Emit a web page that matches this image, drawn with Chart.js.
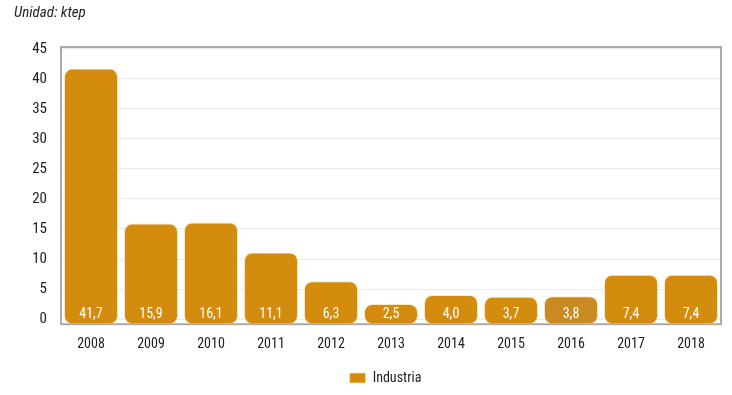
<!DOCTYPE html>
<html>
<head>
<meta charset="utf-8">
<script src="https://cdn.jsdelivr.net/npm/chart.js@4"></script>
<style>
  html, body { margin: 0; padding: 0; background: #fff; }
  #wrap { width: 732px; height: 395px; position: relative; }
</style>
</head>
<body>
<div id="wrap"><canvas id="grafico"></canvas></div>
<script>
const anos = ['2008', '2009', '2010', '2011', '2012', '2013', '2014', '2015', '2016', '2017', '2018'];
const industria = [41.7, 15.9, 16.1, 11.1, 6.3, 2.5, 4.0, 3.7, 3.8, 7.4, 7.4];
const yTicks = [0, 5, 10, 15, 20, 25, 30, 35, 40, 45];

const fonte = "'Roboto Condensed', 'Liberation Sans Narrow', 'DejaVu Sans Condensed', sans-serif";
const laranja = '#d48c0e';
const cores = anos.map(a => a === '2016' ? '#c98a22' : laranja);

// Moldura cinza ao redor da área do gráfico + título
const moldura = {
  id: 'moldura',
  afterLayout(chart) {
    // legenda centrada na área do gráfico, não no canvas
    const a = chart.chartArea;
    const desloc = (a.left + a.right) / 2 - chart.width / 2;
    chart.legend.left += desloc;
    chart.legend.right += desloc;
  },
  afterDraw(chart) {
    const { ctx, chartArea: a } = chart;
    ctx.save();
    ctx.strokeStyle = '#ababab';
    ctx.lineWidth = 2;
    ctx.strokeRect(a.left, a.top, a.right - a.left, a.bottom - a.top);
    ctx.fillStyle = '#222';
    ctx.font = "italic 15px " + fonte;
    ctx.textBaseline = 'middle';
    ctx.fillText('Unidad: ktep', 14, 13);
    ctx.restore();
  }
};

// Rótulos brancos na base das barras
const rotulos = {
  id: 'rotulos',
  afterDatasetsDraw(chart) {
    const { ctx } = chart;
    const meta = chart.getDatasetMeta(0);
    ctx.save();
    ctx.fillStyle = '#fff';
    ctx.font = "14px " + fonte;
    ctx.textAlign = 'center';
    ctx.textBaseline = 'middle';
    meta.data.forEach((bar, i) => {
      ctx.fillText(industria[i].toFixed(1).replace('.', ','), bar.x, chart.chartArea.bottom - 10);
    });
    ctx.restore();
  }
};

new Chart(document.getElementById('grafico'), {
  type: 'bar',
  data: {
    labels: anos,
    datasets: [{
      label: 'Industria',
      data: industria,
      base: -0.85,
      backgroundColor: cores,
      borderColor: 'rgba(255, 225, 170, 0.8)',
      borderWidth: 1,
      borderRadius: 8,
      borderSkipped: false,
      barPercentage: 0.9,
      categoryPercentage: 1.0
    }]
  },
  options: {
    responsive: true,
    maintainAspectRatio: false,
    animation: false,
    layout: { padding: { top: 47, right: 11, left: 0, bottom: 0 } },
    plugins: {
      legend: {
        position: 'bottom',
        labels: {
          boxWidth: 16,
          boxHeight: 10,
          color: '#222',
          font: { family: fonte, size: 14 },
          padding: 14
        }
      },
      tooltip: { enabled: false }
    },
    scales: {
      x: {
        grid: { display: false },
        border: { display: false },
        ticks: { color: '#222', font: { family: fonte, size: 14 }, padding: 4 }
      },
      y: {
        min: -0.85,
        max: 45.3,
        afterBuildTicks(axis) { axis.ticks = yTicks.map(v => ({ value: v })); },
        afterFit(axis) { axis.width = 61; },
        grid: { color: '#ebebeb', drawTicks: false },
        border: { display: false },
        ticks: { color: '#222', font: { family: fonte, size: 15 }, padding: 14 }
      }
    }
  },
  plugins: [moldura, rotulos]
});
</script>
</body>
</html>
